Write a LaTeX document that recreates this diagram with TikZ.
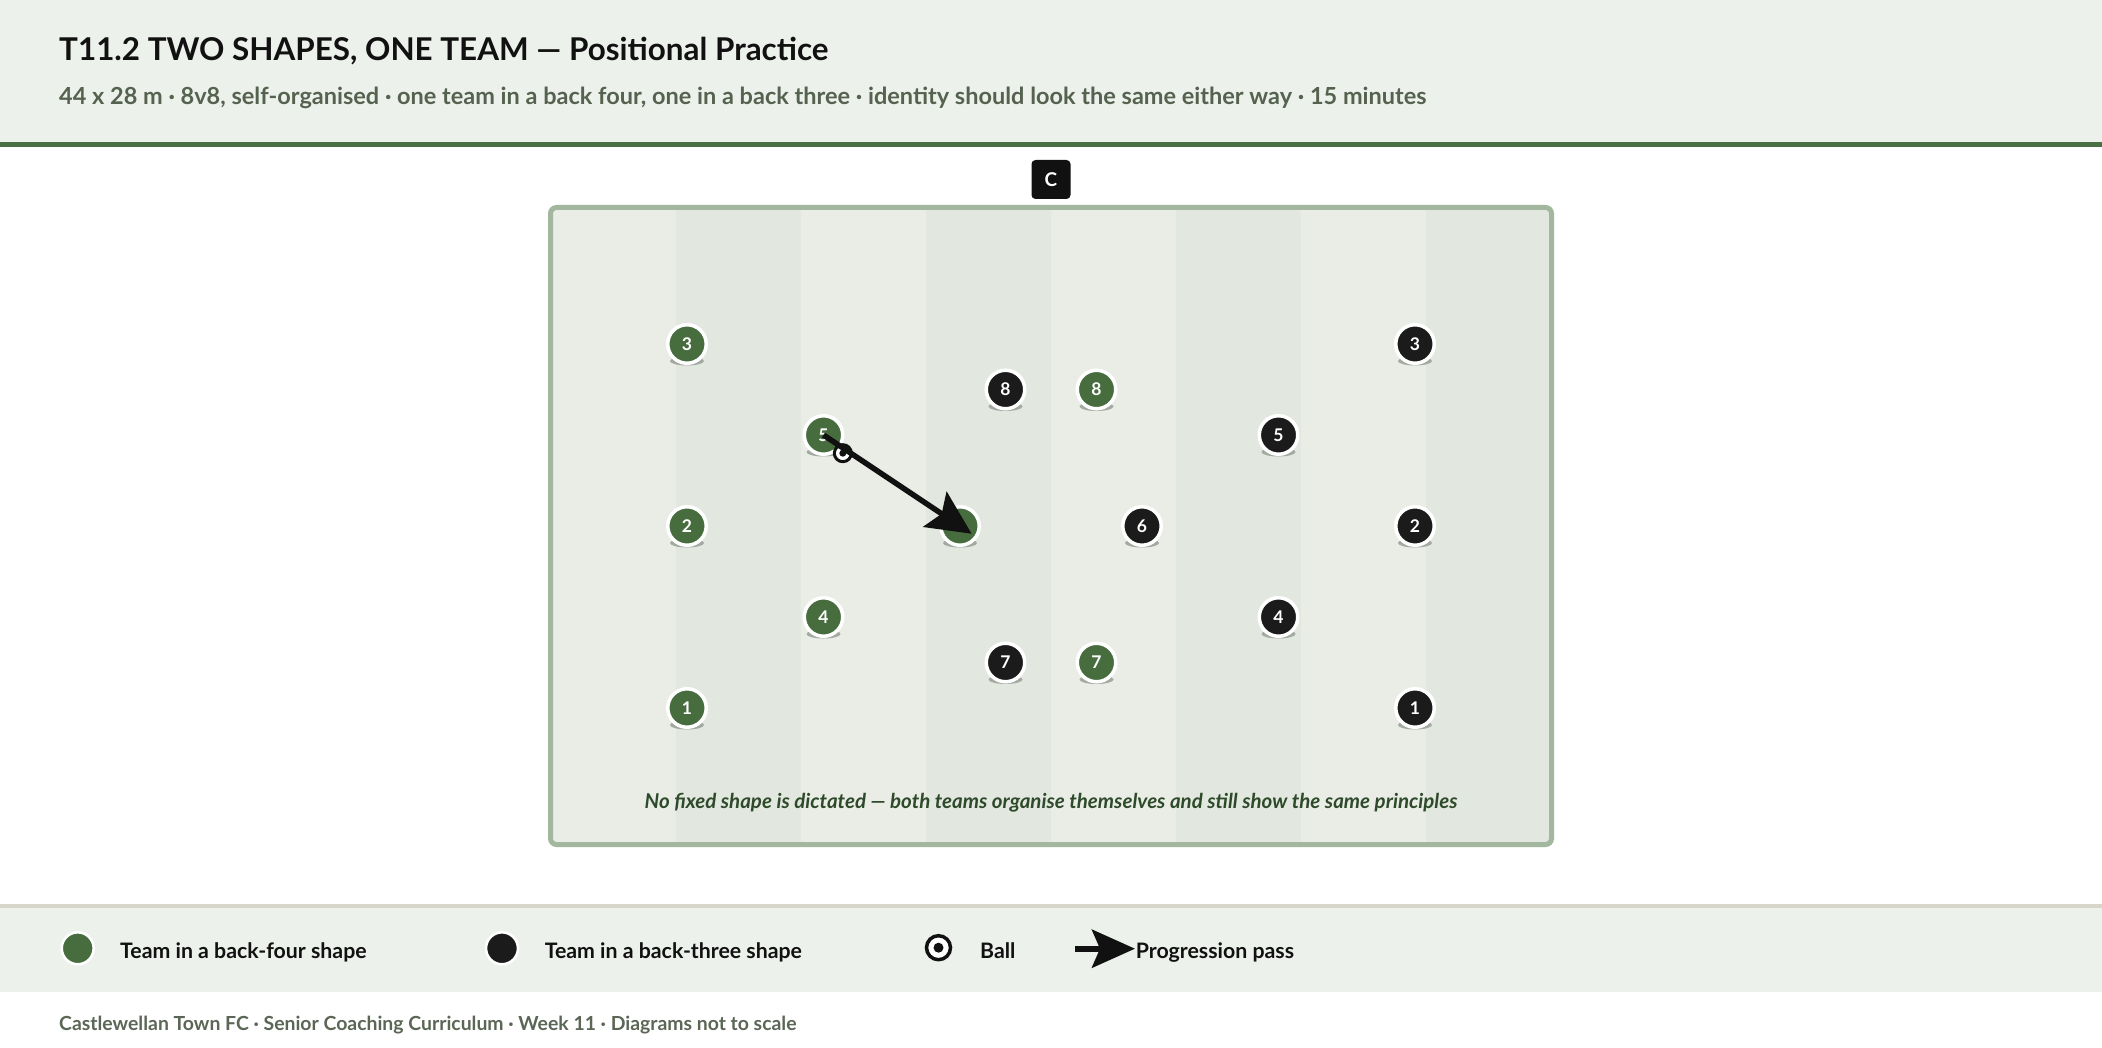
\documentclass[tikz,border=0pt]{standalone}
\usepackage{fontspec}
\setmainfont{Lato}
\usetikzlibrary{arrows.meta,calc}
\definecolor{hdrbg}{HTML}{EDF1EC}
\definecolor{hdrbar}{HTML}{4A6F44}
\definecolor{pgreen}{HTML}{476D3F}
\definecolor{pblack}{HTML}{1B1B1B}
\definecolor{pborder}{HTML}{A3B79F}
\definecolor{stripeA}{HTML}{E9EDE6}
\definecolor{stripeB}{HTML}{E2E8DF}
\definecolor{legline}{HTML}{D8D5CB}
\definecolor{captc}{HTML}{2E4A2A}
\definecolor{subc}{HTML}{55624F}
\definecolor{footc}{HTML}{5B6656}
\definecolor{shdc}{HTML}{A3AAA1}
\definecolor{inkc}{HTML}{111111}
\newcommand\plyr[5]{%
  \fill[shdc] (#2,#3) ++(0pt,-17pt) ellipse [x radius=17pt, y radius=4.5pt];
  \node[#4] (#1) at (#2,#3) {#5};}
\tikzset{
  pl/.style={circle, minimum size=38.5pt, inner sep=0pt, draw=white, line width=3.5pt,
    font=\bfseries\fontsize{17.5}{17.5}\selectfont, text=white},
  gp/.style={pl, fill=pgreen},
  bp/.style={pl, fill=pblack},
  legdot/.style={circle, minimum size=31.9pt, inner sep=0pt, draw=white, line width=2.5pt},
  legtxt/.style={anchor=base west, inner sep=0pt, text=inkc, font=\bfseries\fontsize{21.3}{22}\selectfont},
  ballnode/.style={circle, fill=white, draw=inkc, inner sep=0pt},
  passline/.style={draw=inkc, line width=5.5pt, -{Stealth[length=44pt, width=42pt, inset=8pt]}},
}
\begin{document}
\begin{tikzpicture}[x=1pt, y=-1pt]
\useasboundingbox (0,0) rectangle (2102,1048);
\fill[white] (0,0) rectangle (2102,1048);
% header
\fill[hdrbg] (0,0) rectangle (2102,142);
\fill[hdrbar] (0,142) rectangle (2102,147);
\node[anchor=base west, inner sep=0pt, text=inkc, font=\bfseries\fontsize{31.4}{34}\selectfont] (title) at (59,60.6)
  {T11.2 TWO SHAPES, ONE TEAM — Positional Practice};
\node[anchor=base west, inner sep=0pt, text=subc, font=\bfseries\fontsize{23.5}{25}\selectfont] (subtitle) at (59,105)
  {44 x 28 m · 8v8, self-organised · one team in a back four, one in a back three · identity should look the same either way · 15 minutes};
% coach
\node[fill=inkc, rounded corners=4pt, minimum size=39pt, inner sep=0pt, text=white,
  font=\bfseries\fontsize{19}{19}\selectfont] (coach) at (1051,179.5) {C};
% pitch
\begin{scope}[shift={(550.5,207.5)}, x=22.75pt, y=-22.75pt]
  \begin{scope}
    \clip[rounded corners=6pt] (0,0) rectangle (44,28);
    \fill[stripeA] (0,0) rectangle (44,28);
    \foreach \i in {1,3,5,7} \fill[stripeB] (\i*5.5,0) rectangle ({(\i+1)*5.5},28);
  \end{scope}
  \draw[pborder, line width=5pt, rounded corners=6pt] (0,0) rectangle (44,28);
  % green team
  \plyr{g3}{6}{6}{gp}{3}
  \plyr{g5}{12}{10}{gp}{5}
  \plyr{g2}{6}{14}{gp}{2}
  \plyr{g4}{12}{18}{gp}{4}
  \plyr{g1}{6}{22}{gp}{1}
  \plyr{g8}{24}{8}{gp}{8}
  \plyr{g7}{24}{20}{gp}{7}
  \plyr{g6}{18}{14}{gp}{}
  % black team
  \plyr{b8}{20}{8}{bp}{8}
  \plyr{b7}{20}{20}{bp}{7}
  \plyr{b6}{26}{14}{bp}{6}
  \plyr{b5}{32}{10}{bp}{5}
  \plyr{b4}{32}{18}{bp}{4}
  \plyr{b3}{38}{6}{bp}{3}
  \plyr{b2}{38}{14}{bp}{2}
  \plyr{b1}{38}{22}{bp}{1}
  % ball
  \node[ballnode, minimum size=17pt, line width=3pt] (ball) at (12.85,10.8) {};
  \fill[inkc] (ball.center) circle (3.5pt);
  % pass
  \draw[passline, shorten >=-14pt] (g5.center) -- (g6.center);
  \node[text=captc, font=\bfseries\itshape\fontsize{20.5}{22}\selectfont, inner sep=0pt, anchor=base] (caption) at (22,26.43)
    {No fixed shape is dictated — both teams organise themselves and still show the same principles};
\end{scope}
% legend
\fill[legline] (0,904) rectangle (2102,908);
\fill[hdrbg] (0,908) rectangle (2102,992);
\node[legdot, fill=pgreen] (lg) at (77.7,948.3) {};
\node[legtxt] (lgt) at (120,958) {Team in a back-four shape};
\node[legdot, fill=pblack] (lb) at (502,948.3) {};
\node[legtxt] (lbt) at (544.6,958) {Team in a back-three shape};
\node[ballnode, minimum size=24pt, line width=3.5pt] (lball) at (938.5,947.7) {};
\fill[inkc] (lball.center) circle (5pt);
\node[legtxt] (lballt) at (980,958) {Ball};
\coordinate (la1) at (1075,948.7);
\coordinate (la2) at (1135,948.7);
\draw[draw=inkc, line width=6pt, -{Stealth[length=43pt, width=38pt, inset=8pt]}] (la1) -- (la2);
\node[legtxt] (lpt) at (1135.7,958) {Progression pass};
% footer
\node[anchor=base west, inner sep=0pt, text=footc, font=\bfseries\fontsize{19.4}{21}\selectfont] (footer) at (59,1030.5)
  {Castlewellan Town FC · Senior Coaching Curriculum · Week 11 · Diagrams not to scale};
\end{tikzpicture}
\end{document}
